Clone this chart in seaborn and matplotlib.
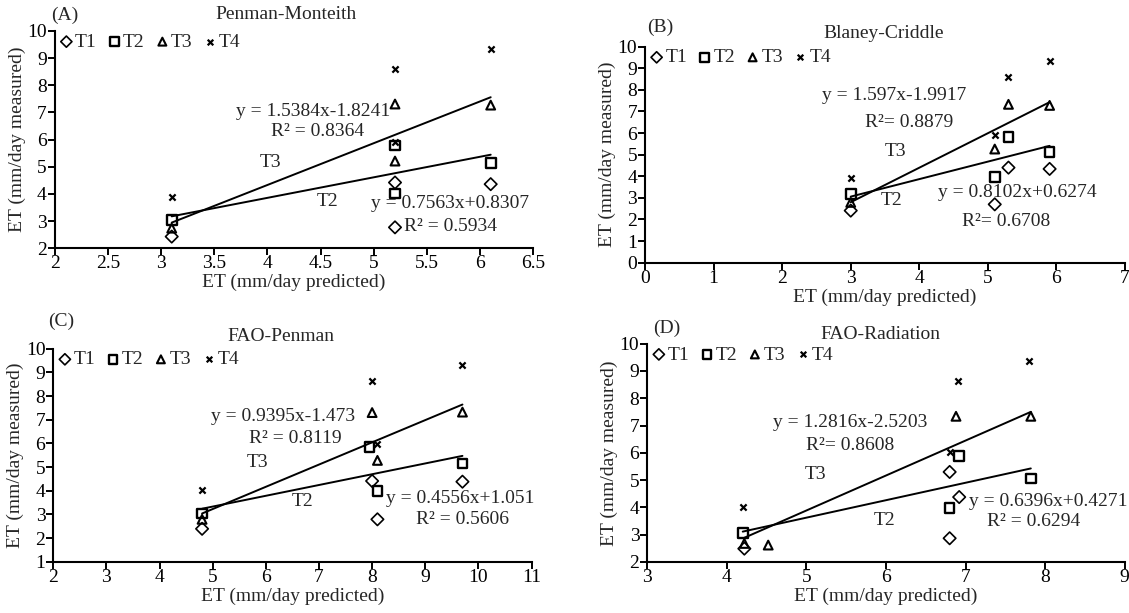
import numpy as np
import pandas as pd
import matplotlib
matplotlib.use("Agg")
import matplotlib.pyplot as plt
import seaborn as sns
from matplotlib.ticker import MultipleLocator, FormatStrFormatter

treatments = ["T1", "T2", "T3", "T4"]

# (A) Penman-Monteith: predicted ET (x) and measured ET (y) per treatment
pm_x = [[3.1, 5.2, 5.2, 6.1], [3.1, 5.2, 5.2, 6.1], [3.1, 5.2, 5.2, 6.1], [3.1, 5.2, 5.2, 6.1]]
pm_y = [[2.43, 4.42, 2.77, 4.36], [3.04, 5.78, 4.02, 5.15], [2.74, 7.31, 5.21, 7.27], [3.88, 8.59, 5.93, 9.33]]

# (B) Blaney-Criddle
bc_x = [[3.0, 5.1, 5.3, 5.9], [3.0, 5.1, 5.3, 5.9], [3.0, 5.1, 5.3, 5.9], [3.0, 5.1, 5.3, 5.9]]
bc_y = [[2.41, 2.70, 4.40, 4.34], [3.18, 3.98, 5.82, 5.11], [2.79, 5.26, 7.33, 7.28], [3.90, 5.90, 8.61, 9.35]]

# (C) FAO-Penman
fp_x = [[4.8, 8.0, 8.1, 9.7], [4.8, 7.95, 8.1, 9.7], [4.8, 8.0, 8.1, 9.7], [4.8, 8.0, 8.1, 9.7]]
fp_y = [[2.39, 4.41, 2.79, 4.38], [3.04, 5.85, 3.99, 5.15], [2.79, 7.30, 5.28, 7.32], [4.01, 8.62, 5.96, 9.30]]

# (D) FAO-Radiation
fr_x = [[4.22, 6.8, 6.8, 6.92], [4.2, 6.8, 6.92, 7.82], [4.22, 4.52, 6.88, 7.82], [4.2, 6.8, 6.9, 7.8]]
fr_y = [[2.49, 2.87, 5.30, 4.38], [3.07, 3.99, 5.88, 5.06], [2.68, 2.62, 7.34, 7.34], [4.00, 6.03, 8.62, 9.36]]

# linear trend lines (slope, intercept, R^2) for T3 and T2
pm_fit = {"T3": (1.5384, -1.8241, "0.8364"), "T2": (0.7563, 0.8307, "0.5934")}
bc_fit = {"T3": (1.597, -1.9917, "0.8879"), "T2": (0.8102, 0.6274, "0.6708")}
fp_fit = {"T3": (0.9395, -1.473, "0.8119"), "T2": (0.4556, 1.051, "0.5606")}
fr_fit = {"T3": (1.2816, -2.5203, "0.8608"), "T2": (0.6396, 0.4271, "0.6294")}

titles = ["Penman-Monteith", "Blaney-Criddle", "FAO-Penman", "FAO-Radiation"]
letters = ["(A)", "(B)", "(C)", "(D)"]

rows = []
for title, xs, ys in zip(titles, [pm_x, bc_x, fp_x, fr_x], [pm_y, bc_y, fp_y, fr_y]):
    for t, xv, yv in zip(treatments, xs, ys):
        for a, b in zip(xv, yv):
            rows.append((title, t, a, b))
df = pd.DataFrame(rows, columns=["method", "treatment", "pred", "meas"])

sns.set_theme(style="ticks")
plt.rcParams["font.family"] = ["Liberation Serif", "DejaVu Serif"]
plt.rcParams.update({
    "font.size": 14,
    "axes.linewidth": 1.5,
    "xtick.major.size": 4.7,
    "ytick.major.size": 4.7,
    "xtick.major.width": 1.4,
    "ytick.major.width": 1.4,
    "xtick.major.pad": 0.5,
    "ytick.major.pad": 1,
    "xtick.labelsize": 14,
    "ytick.labelsize": 14,
    "axes.labelsize": 14,
})

marker_kw = {
    "T1": dict(marker="D", s=40, facecolor="none", edgecolor="black", linewidth=1.2),
    "T2": dict(marker="s", s=48, facecolor="none", edgecolor="black", linewidth=1.7),
    "T3": dict(marker="^", s=40, facecolor="none", edgecolor="black", linewidth=1.5),
    "T4": dict(marker="x", s=20, color="black", linewidth=1.6),
}

fig = plt.figure(figsize=(11.29, 6.13), dpi=100)
positions = [
    [0.0485, 0.5950, 0.4238, 0.3545],
    [0.5713, 0.5715, 0.4252, 0.3524],
    [0.0472, 0.0837, 0.4236, 0.3475],
    [0.5733, 0.0832, 0.4229, 0.3561],
]
limits = [((2, 6.5), (2, 10), 0.5), ((0, 7), (0, 10), 1), ((2, 11), (1, 10), 1), ((3, 9), (2, 10), 1)]
fits = [pm_fit, bc_fit, fp_fit, fr_fit]
letter_pos = [(0.021, 1.074), (0.031, 1.09), (0.017, 1.13), (0.041, 1.069)]
title_pos = [(0.484, 1.074), (0.497, 1.062), (0.476, 1.055), (0.488, 1.043)]
# text anchors: eq T3, R2 T3, "T3", "T2", eq T2, R2 T2
text_pos = [
    [(4.43, 7.03), (4.47, 6.30), (4.03, 5.17), (4.57, 3.72), (5.72, 3.63), (5.72, 2.80)],
    [(3.64, 7.72), (3.85, 6.48), (3.66, 5.14), (3.59, 2.90), (5.43, 3.24), (5.27, 1.90)],
    [(6.32, 7.15), (6.56, 6.21), (5.85, 5.18), (6.69, 3.56), (9.65, 3.66), (9.71, 2.79)],
    [(5.55, 7.10), (5.55, 6.27), (5.12, 5.21), (5.98, 3.53), (8.04, 4.23), (7.86, 3.47)],
]
r2_sep = [[" = ", " = "], ["= ", "= "], [" = ", " = "], ["= ", " = "]]

for i, title in enumerate(titles):
    ax = fig.add_axes(positions[i])
    sub = df[df["method"] == title]
    for t in treatments:
        d = sub[sub["treatment"] == t]
        sns.scatterplot(data=d, x="pred", y="meas", ax=ax, label=t, zorder=3, **marker_kw[t])
    fit = fits[i]
    for t in ["T3", "T2"]:
        d = sub[sub["treatment"] == t]
        slope, icpt, _ = fit[t]
        xl = np.array([d["pred"].min(), d["pred"].max()])
        sns.lineplot(x=xl, y=slope * xl + icpt, ax=ax, color="black", linewidth=1.4, zorder=2)

    (x0, x1), (y0, y1), xstep = limits[i]
    ax.set_xlim(x0, x1)
    ax.set_ylim(y0, y1)
    ax.xaxis.set_major_locator(MultipleLocator(xstep))
    ax.yaxis.set_major_locator(MultipleLocator(1))
    ax.xaxis.set_major_formatter(FormatStrFormatter("%g"))
    ax.set_xlabel("ET (mm/day predicted)", labelpad=1)
    ax.set_ylabel("ET (mm/day measured)", labelpad=1)
    sns.despine(ax=ax)
    for sp in ["left", "bottom"]:
        ax.spines[sp].set_color("black")
    ax.tick_params(colors="black")

    s3, i3, r3 = fit["T3"]
    s2, i2, r2 = fit["T2"]
    eq3 = f"y = {s3}x{'+' if i3 >= 0 else '-'}{abs(i3)}"
    eq2 = f"y = {s2}x{'+' if i2 >= 0 else '-'}{abs(i2)}"
    labels = [eq3, "R\u00b2" + r2_sep[i][0] + r3, "T3", "T2", eq2, "R\u00b2" + r2_sep[i][1] + r2]
    for lab, (tx, ty) in zip(labels, text_pos[i]):
        ax.text(tx, ty, lab, ha="center", va="center", fontsize=14, zorder=4)

    ax.text(*letter_pos[i], letters[i], transform=ax.transAxes, ha="center", va="center", fontsize=14)
    ax.text(*title_pos[i], title, transform=ax.transAxes, ha="center", va="center", fontsize=14)

    ax.legend(loc="upper left", bbox_to_anchor=(0.008, 0.99), ncol=4, frameon=False,
              handletextpad=0.05, columnspacing=0.5, handlelength=0.8,
              borderaxespad=0, borderpad=0, markerscale=0.9, fontsize=14)

fig.savefig("out.png", dpi=100)
